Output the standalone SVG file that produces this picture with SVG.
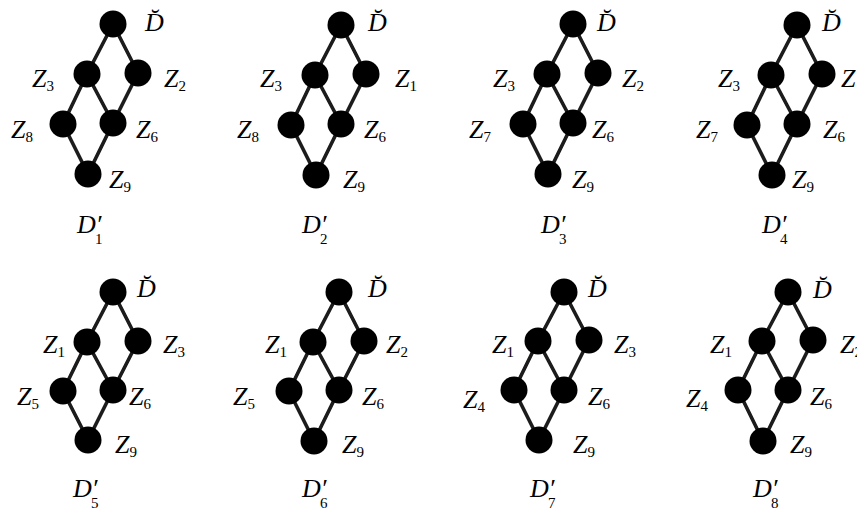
<svg xmlns="http://www.w3.org/2000/svg" width="857" height="512" viewBox="0 0 857 512">
<style>
.e{stroke:#1a1a1a;stroke-width:3.6;fill:none}
.n{fill:#000}
.t{font-family:"Liberation Serif","Times New Roman",serif;font-style:italic;font-size:26px;fill:#000}
.s{font-style:normal;font-size:15px}
</style>
<defs><filter id="soft" x="-10%" y="-10%" width="120%" height="120%"><feGaussianBlur stdDeviation="0.7"/></filter></defs>
<rect width="857" height="512" fill="#fff"/>
<g id="connectors" filter="url(#soft)">
<path class="e" d="M113,24L87,74M113,24L138,73M87,74L63,124M87,74L113,123M138,73L113,123M63,124L88,174M113,123L88,174"/>
<path class="e" d="M341,25L315,75M341,25L366,74M315,75L291,125M315,75L341,124M366,74L341,124M291,125L316,175M341,124L316,175"/>
<path class="e" d="M573,24L547,74M573,24L598,73M547,74L523,124M547,74L573,123M598,73L573,123M523,124L548,174M573,123L548,174"/>
<path class="e" d="M797,25L771,75M797,25L822,74M771,75L747,125M771,75L797,124M822,74L797,124M747,125L772,175M797,124L772,175"/>
<path class="e" d="M113,292L87,342M113,292L138,341M87,342L63,391M87,342L113,390M138,341L113,390M63,391L88,440M113,390L88,440"/>
<path class="e" d="M339,292L313,342M339,292L364,341M313,342L289,391M313,342L339,390M364,341L339,390M289,391L314,441M339,390L314,441"/>
<path class="e" d="M564,292L538,341M564,292L589,340M538,341L514,390M538,341L564,390M589,340L564,390M514,390L539,440M564,390L539,440"/>
<path class="e" d="M788,292L762,341M788,292L813,340M762,341L738,390M762,341L788,390M813,340L788,390M738,390L763,441M788,390L763,441"/>
</g>
<g id="d1">
<g id="d1-top"><circle class="n" cx="113" cy="24" r="13.5" filter="url(#soft)"/><text class="t" x="145" y="31">D&#x306;</text></g>
<g id="d1-z3"><circle class="n" cx="87" cy="74" r="13.5" filter="url(#soft)"/><text class="t" x="32" y="87">Z<tspan class="s" dy="4">3</tspan></text></g>
<g id="d1-z2"><circle class="n" cx="138" cy="73" r="13.5" filter="url(#soft)"/><text class="t" x="164" y="87">Z<tspan class="s" dy="4">2</tspan></text></g>
<g id="d1-z8"><circle class="n" cx="63" cy="124" r="13.5" filter="url(#soft)"/><text class="t" x="11" y="138">Z<tspan class="s" dy="4">8</tspan></text></g>
<g id="d1-z6"><circle class="n" cx="113" cy="123" r="13.5" filter="url(#soft)"/><text class="t" x="136" y="138">Z<tspan class="s" dy="4">6</tspan></text></g>
<g id="d1-z9"><circle class="n" cx="88" cy="174" r="13.5" filter="url(#soft)"/><text class="t" x="109" y="188">Z<tspan class="s" dy="4">9</tspan></text></g>
<text class="t" x="77" y="233">D<tspan>′</tspan><tspan class="s" x="95" y="244">1</tspan></text>
</g>
<g id="d2">
<g id="d2-top"><circle class="n" cx="341" cy="25" r="13.5" filter="url(#soft)"/><text class="t" x="368" y="31">D&#x306;</text></g>
<g id="d2-z3"><circle class="n" cx="315" cy="75" r="13.5" filter="url(#soft)"/><text class="t" x="260" y="87">Z<tspan class="s" dy="4">3</tspan></text></g>
<g id="d2-z1"><circle class="n" cx="366" cy="74" r="13.5" filter="url(#soft)"/><text class="t" x="395" y="87">Z<tspan class="s" dy="4">1</tspan></text></g>
<g id="d2-z8"><circle class="n" cx="291" cy="125" r="13.5" filter="url(#soft)"/><text class="t" x="237" y="138">Z<tspan class="s" dy="4">8</tspan></text></g>
<g id="d2-z6"><circle class="n" cx="341" cy="124" r="13.5" filter="url(#soft)"/><text class="t" x="364" y="138">Z<tspan class="s" dy="4">6</tspan></text></g>
<g id="d2-z9"><circle class="n" cx="316" cy="175" r="13.5" filter="url(#soft)"/><text class="t" x="343" y="188">Z<tspan class="s" dy="4">9</tspan></text></g>
<text class="t" x="302" y="233">D<tspan>′</tspan><tspan class="s" x="320" y="244">2</tspan></text>
</g>
<g id="d3">
<g id="d3-top"><circle class="n" cx="573" cy="24" r="13.5" filter="url(#soft)"/><text class="t" x="597" y="31">D&#x306;</text></g>
<g id="d3-z3"><circle class="n" cx="547" cy="74" r="13.5" filter="url(#soft)"/><text class="t" x="493" y="87">Z<tspan class="s" dy="4">3</tspan></text></g>
<g id="d3-z2"><circle class="n" cx="598" cy="73" r="13.5" filter="url(#soft)"/><text class="t" x="622" y="87">Z<tspan class="s" dy="4">2</tspan></text></g>
<g id="d3-z7"><circle class="n" cx="523" cy="124" r="13.5" filter="url(#soft)"/><text class="t" x="469" y="138">Z<tspan class="s" dy="4">7</tspan></text></g>
<g id="d3-z6"><circle class="n" cx="573" cy="123" r="13.5" filter="url(#soft)"/><text class="t" x="592" y="138">Z<tspan class="s" dy="4">6</tspan></text></g>
<g id="d3-z9"><circle class="n" cx="548" cy="174" r="13.5" filter="url(#soft)"/><text class="t" x="572" y="188">Z<tspan class="s" dy="4">9</tspan></text></g>
<text class="t" x="541" y="233">D<tspan>′</tspan><tspan class="s" x="559" y="244">3</tspan></text>
</g>
<g id="d4">
<g id="d4-top"><circle class="n" cx="797" cy="25" r="13.5" filter="url(#soft)"/><text class="t" x="822" y="31">D&#x306;</text></g>
<g id="d4-z3"><circle class="n" cx="771" cy="75" r="13.5" filter="url(#soft)"/><text class="t" x="718" y="87">Z<tspan class="s" dy="4">3</tspan></text></g>
<g id="d4-z"><circle class="n" cx="822" cy="74" r="13.5" filter="url(#soft)"/><text class="t" x="841" y="87">Z</text></g>
<g id="d4-z7"><circle class="n" cx="747" cy="125" r="13.5" filter="url(#soft)"/><text class="t" x="696" y="138">Z<tspan class="s" dy="4">7</tspan></text></g>
<g id="d4-z6"><circle class="n" cx="797" cy="124" r="13.5" filter="url(#soft)"/><text class="t" x="823" y="138">Z<tspan class="s" dy="4">6</tspan></text></g>
<g id="d4-z9"><circle class="n" cx="772" cy="175" r="13.5" filter="url(#soft)"/><text class="t" x="792" y="188">Z<tspan class="s" dy="4">9</tspan></text></g>
<text class="t" x="762" y="233">D<tspan>′</tspan><tspan class="s" x="780" y="244">4</tspan></text>
</g>
<g id="d5">
<g id="d5-top"><circle class="n" cx="113" cy="292" r="13.5" filter="url(#soft)"/><text class="t" x="137" y="297">D&#x306;</text></g>
<g id="d5-z1"><circle class="n" cx="87" cy="342" r="13.5" filter="url(#soft)"/><text class="t" x="43" y="353">Z<tspan class="s" dy="4">1</tspan></text></g>
<g id="d5-z3"><circle class="n" cx="138" cy="341" r="13.5" filter="url(#soft)"/><text class="t" x="163" y="353">Z<tspan class="s" dy="4">3</tspan></text></g>
<g id="d5-z5"><circle class="n" cx="63" cy="391" r="13.5" filter="url(#soft)"/><text class="t" x="17" y="405">Z<tspan class="s" dy="4">5</tspan></text></g>
<g id="d5-z6"><circle class="n" cx="113" cy="390" r="13.5" filter="url(#soft)"/><text class="t" x="129" y="405">Z<tspan class="s" dy="4">6</tspan></text></g>
<g id="d5-z9"><circle class="n" cx="88" cy="440" r="13.5" filter="url(#soft)"/><text class="t" x="115" y="453">Z<tspan class="s" dy="4">9</tspan></text></g>
<text class="t" x="73" y="497">D<tspan>′</tspan><tspan class="s" x="91" y="508">5</tspan></text>
</g>
<g id="d6">
<g id="d6-top"><circle class="n" cx="339" cy="292" r="13.5" filter="url(#soft)"/><text class="t" x="368" y="297">D&#x306;</text></g>
<g id="d6-z1"><circle class="n" cx="313" cy="342" r="13.5" filter="url(#soft)"/><text class="t" x="265" y="353">Z<tspan class="s" dy="4">1</tspan></text></g>
<g id="d6-z2"><circle class="n" cx="364" cy="341" r="13.5" filter="url(#soft)"/><text class="t" x="386" y="353">Z<tspan class="s" dy="4">2</tspan></text></g>
<g id="d6-z5"><circle class="n" cx="289" cy="391" r="13.5" filter="url(#soft)"/><text class="t" x="233" y="405">Z<tspan class="s" dy="4">5</tspan></text></g>
<g id="d6-z6"><circle class="n" cx="339" cy="390" r="13.5" filter="url(#soft)"/><text class="t" x="362" y="405">Z<tspan class="s" dy="4">6</tspan></text></g>
<g id="d6-z9"><circle class="n" cx="314" cy="441" r="13.5" filter="url(#soft)"/><text class="t" x="342" y="453">Z<tspan class="s" dy="4">9</tspan></text></g>
<text class="t" x="302" y="497">D<tspan>′</tspan><tspan class="s" x="320" y="508">6</tspan></text>
</g>
<g id="d7">
<g id="d7-top"><circle class="n" cx="564" cy="292" r="13.5" filter="url(#soft)"/><text class="t" x="588" y="297">D&#x306;</text></g>
<g id="d7-z1"><circle class="n" cx="538" cy="341" r="13.5" filter="url(#soft)"/><text class="t" x="492" y="353">Z<tspan class="s" dy="4">1</tspan></text></g>
<g id="d7-z3"><circle class="n" cx="589" cy="340" r="13.5" filter="url(#soft)"/><text class="t" x="614" y="353">Z<tspan class="s" dy="4">3</tspan></text></g>
<g id="d7-z4"><circle class="n" cx="514" cy="390" r="13.5" filter="url(#soft)"/><text class="t" x="463" y="408">Z<tspan class="s" dy="4">4</tspan></text></g>
<g id="d7-z6"><circle class="n" cx="564" cy="390" r="13.5" filter="url(#soft)"/><text class="t" x="588" y="405">Z<tspan class="s" dy="4">6</tspan></text></g>
<g id="d7-z9"><circle class="n" cx="539" cy="440" r="13.5" filter="url(#soft)"/><text class="t" x="573" y="453">Z<tspan class="s" dy="4">9</tspan></text></g>
<text class="t" x="530" y="497">D<tspan>′</tspan><tspan class="s" x="548" y="508">7</tspan></text>
</g>
<g id="d8">
<g id="d8-top"><circle class="n" cx="788" cy="292" r="13.5" filter="url(#soft)"/><text class="t" x="813" y="298">D&#x306;</text></g>
<g id="d8-z1"><circle class="n" cx="762" cy="341" r="13.5" filter="url(#soft)"/><text class="t" x="710" y="353">Z<tspan class="s" dy="4">1</tspan></text></g>
<g id="d8-z2"><circle class="n" cx="813" cy="340" r="13.5" filter="url(#soft)"/><text class="t" x="840" y="353">Z<tspan class="s" dy="4">2</tspan></text></g>
<g id="d8-z4"><circle class="n" cx="738" cy="390" r="13.5" filter="url(#soft)"/><text class="t" x="686" y="407">Z<tspan class="s" dy="4">4</tspan></text></g>
<g id="d8-z6"><circle class="n" cx="788" cy="390" r="13.5" filter="url(#soft)"/><text class="t" x="810" y="405">Z<tspan class="s" dy="4">6</tspan></text></g>
<g id="d8-z9"><circle class="n" cx="763" cy="441" r="13.5" filter="url(#soft)"/><text class="t" x="790" y="453">Z<tspan class="s" dy="4">9</tspan></text></g>
<text class="t" x="753" y="497">D<tspan>′</tspan><tspan class="s" x="771" y="508">8</tspan></text>
</g>
</svg>
